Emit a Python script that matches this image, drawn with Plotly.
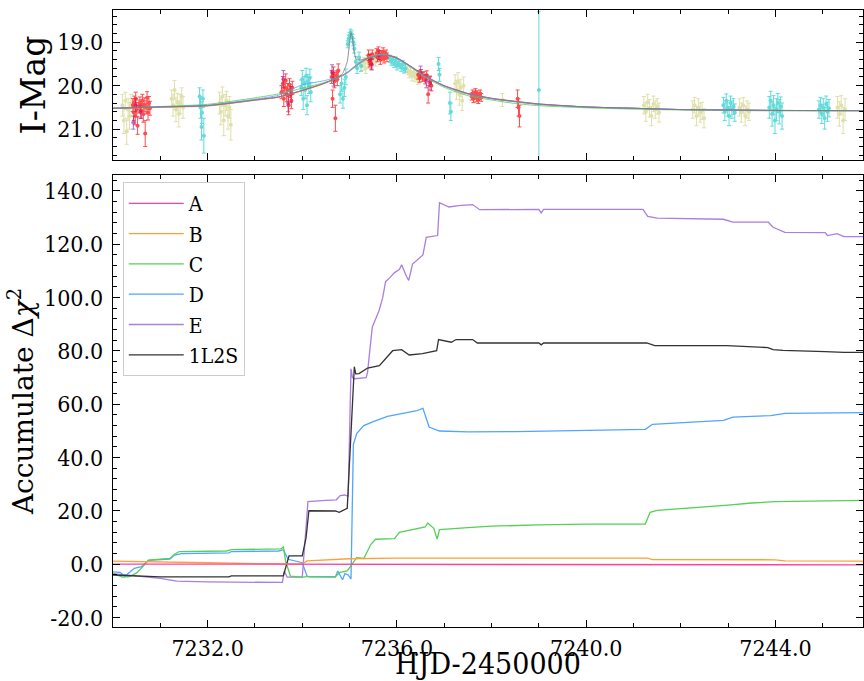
import plotly.graph_objects as go

# ---------------- top panel: photometry (HJD-2450000, I mag, error) ----------------
RED_T = [7230.42, 7230.44, 7230.45, 7230.47, 7230.48, 7230.50, 7230.52, 7230.55, 7230.57, 7230.60,
         7230.62, 7230.64, 7230.66, 7230.68, 7230.70, 7230.72, 7230.74, 7230.76, 7230.78,
         7233.56, 7233.59, 7233.61, 7233.63, 7233.65, 7233.67, 7233.69, 7233.71, 7233.73, 7233.75, 7233.77, 7233.79,
         7234.62, 7234.64, 7234.66, 7234.68, 7234.70, 7234.72, 7234.74, 7234.76,
         7235.40, 7235.42, 7235.44, 7235.46, 7235.48, 7235.57, 7235.59, 7235.61, 7235.63, 7235.65, 7235.67,
         7235.69, 7235.71, 7235.73, 7235.75, 7235.77, 7235.79,
         7236.45, 7236.48, 7236.51, 7236.54, 7236.57, 7236.60, 7236.63, 7236.66, 7236.70, 7236.73,
         7237.58, 7237.60, 7237.62, 7237.64, 7237.66, 7237.68, 7237.70, 7237.72, 7237.74, 7237.76, 7237.78,
         7238.55, 7238.57, 7238.59]
RED_M = [20.45, 20.62, 20.38, 20.70, 20.30, 20.55, 20.92, 20.48, 20.40, 20.58,
         20.35, 20.66, 20.44, 21.10, 20.50, 20.28, 20.62, 20.40, 20.52,
         20.15, 19.95, 20.30, 20.05, 19.88, 20.20, 20.10, 20.45, 19.98, 20.12, 20.35, 20.05,
         19.80, 20.30, 19.72, 19.90, 20.75, 19.78, 19.85, 19.65,
         19.30, 19.45, 19.38, 19.50, 19.28, 19.25, 19.35, 19.20, 19.30, 19.40, 19.28,
         19.33, 19.22, 19.38, 19.30, 19.27, 19.35,
         19.75, 19.82, 19.72, 19.80, 19.78, 19.85, 19.76, 20.20, 19.90, 20.00,
         20.25, 20.18, 20.30, 20.22, 20.15, 20.28, 20.20, 20.32, 20.24, 20.18, 20.27,
         20.30, 20.50, 20.70]
RED_E = [0.15, 0.18, 0.14, 0.20, 0.15, 0.16, 0.20, 0.15, 0.14, 0.17,
         0.15, 0.18, 0.16, 0.30, 0.15, 0.14, 0.17, 0.15, 0.16,
         0.15, 0.16, 0.18, 0.14, 0.15, 0.17, 0.15, 0.22, 0.14, 0.15, 0.18, 0.15,
         0.15, 0.20, 0.15, 0.15, 0.30, 0.12, 0.15, 0.15,
         0.12, 0.12, 0.10, 0.12, 0.10, 0.10, 0.10, 0.09, 0.10, 0.11, 0.09,
         0.10, 0.09, 0.10, 0.09, 0.09, 0.10,
         0.10, 0.10, 0.09, 0.10, 0.10, 0.11, 0.10, 0.20, 0.12, 0.12,
         0.08, 0.08, 0.09, 0.08, 0.08, 0.09, 0.08, 0.09, 0.08, 0.08, 0.09,
         0.20, 0.20, 0.25]

PURPLE_T = [7230.43, 7230.48, 7230.58, 7233.60, 7233.70, 7233.76, 7234.63, 7234.66,
            7235.43, 7235.47, 7235.62, 7236.50, 7236.62, 7236.70]
PURPLE_M = [20.85, 20.45, 20.60, 19.85, 20.40, 20.20, 19.70, 19.85,
            19.40, 19.52, 19.30, 19.70, 19.90, 19.95]
PURPLE_E = [0.15, 0.15, 0.15, 0.20, 0.20, 0.18, 0.18, 0.16,
            0.12, 0.12, 0.10, 0.15, 0.15, 0.15]

CYAN_T = [7231.83, 7231.85, 7231.87, 7231.88, 7231.90, 7231.92,
          7233.98, 7234.00, 7234.02, 7234.04, 7234.06, 7234.08, 7234.10, 7234.12, 7234.14, 7234.16, 7234.18,
          7234.80, 7234.83, 7234.86, 7234.89, 7234.92,
          7234.96, 7234.98, 7235.00, 7235.02, 7235.04, 7235.06, 7235.08, 7235.10,
          7235.13, 7235.16, 7235.20, 7235.24,
          7235.85, 7235.88, 7235.91, 7235.94, 7235.97, 7236.00, 7236.03, 7236.06, 7236.09, 7236.12, 7236.15, 7236.18,
          7236.88, 7236.90, 7237.12, 7237.14,
          7239.00,
          7242.90, 7242.93, 7242.96, 7242.99, 7243.02, 7243.05, 7243.08, 7243.11, 7243.14,
          7243.87, 7243.90, 7243.93, 7243.96, 7243.99, 7244.02, 7244.05, 7244.08, 7244.11, 7244.14,
          7244.92, 7244.95, 7244.98, 7245.01, 7245.04, 7245.07, 7245.10, 7245.13]
CYAN_M = [20.25, 20.50, 20.95, 20.62, 20.30, 21.15,
          20.05, 19.85, 20.30, 19.95, 20.10, 19.78, 20.45, 19.90, 20.00, 19.82, 20.15,
          20.20, 19.95, 20.30, 20.05, 19.80,
          19.05, 18.92, 18.85, 18.78, 18.82, 18.90, 19.00, 19.15,
          19.45, 19.60, 19.35, 19.55,
          19.38, 19.45, 19.40, 19.50, 19.42, 19.55, 19.48, 19.52, 19.58, 19.50, 19.62, 19.60,
          19.50, 19.75, 20.40, 20.60,
          20.10,
          20.45, 20.60, 20.35, 20.52, 20.70, 20.40, 20.55, 20.48, 20.62,
          20.50, 20.35, 20.65, 20.45, 20.80, 20.55, 20.40, 20.60, 20.48, 20.70,
          20.55, 20.45, 20.65, 20.50, 20.75, 20.42, 20.60, 20.52]
CYAN_E = [0.20, 0.25, 0.30, 0.25, 0.20, 0.40,
          0.18, 0.20, 0.25, 0.16, 0.20, 0.18, 0.22, 0.16, 0.18, 0.20, 0.22,
          0.20, 0.18, 0.22, 0.20, 0.18,
          0.08, 0.08, 0.07, 0.08, 0.08, 0.08, 0.08, 0.10,
          0.12, 0.12, 0.12, 0.12,
          0.08, 0.08, 0.07, 0.08, 0.08, 0.09, 0.08, 0.08, 0.09, 0.08, 0.09, 0.09,
          0.15, 0.15, 0.25, 0.20,
          1.80,
          0.18, 0.20, 0.16, 0.18, 0.22, 0.16, 0.20, 0.18, 0.20,
          0.25, 0.22, 0.28, 0.22, 0.30, 0.25, 0.22, 0.28, 0.22, 0.30,
          0.20, 0.18, 0.22, 0.20, 0.25, 0.18, 0.22, 0.20]

KHAKI_T = [7230.20, 7230.23, 7230.26, 7230.29, 7230.32, 7230.35, 7230.38,
           7231.24, 7231.27, 7231.30, 7231.33, 7231.36, 7231.39, 7231.42, 7231.45, 7231.48,
           7232.25, 7232.28, 7232.31, 7232.34, 7232.37, 7232.40, 7232.43, 7232.46, 7232.49,
           7235.28, 7235.31, 7235.34, 7235.37, 7235.40, 7235.43, 7235.46, 7235.49, 7235.52, 7235.55,
           7236.23, 7236.26, 7236.29, 7236.32, 7236.35, 7236.38, 7236.41, 7236.44, 7236.47,
           7237.23, 7237.26, 7237.29, 7237.32, 7237.35, 7237.38, 7237.41,
           7238.23,
           7241.22, 7241.26, 7241.30, 7241.34, 7241.38, 7241.42, 7241.46, 7241.50, 7241.54,
           7242.25, 7242.29, 7242.33, 7242.37, 7242.41, 7242.45, 7242.49,
           7243.24, 7243.28, 7243.32, 7243.36, 7243.40, 7243.44,
           7245.31, 7245.35, 7245.39, 7245.43, 7245.47]
KHAKI_M = [20.45, 20.80, 20.35, 21.05, 20.55, 20.70, 20.40,
           20.30, 20.45, 20.10, 20.55, 20.38, 20.65, 20.42, 20.25, 20.50,
           20.40, 20.60, 20.25, 20.80, 20.45, 20.35, 20.70, 20.50, 20.90,
           19.55, 19.45, 19.60, 19.40, 19.50, 19.35, 19.48, 19.42, 19.38, 19.45,
           19.65, 19.72, 19.68, 19.78, 19.70, 19.80, 19.75, 19.85, 19.82,
           19.95, 20.10, 19.90, 20.20, 20.05, 20.35, 20.00,
           20.33,
           20.45, 20.60, 20.38, 20.52, 20.70, 20.42, 20.55, 20.48, 20.62,
           20.55, 20.45, 20.70, 20.50, 20.62, 20.58, 20.75,
           20.50, 20.62, 20.45, 20.70, 20.55, 20.60,
           20.50, 20.65, 20.45, 20.80, 20.55]
KHAKI_E = [0.25, 0.30, 0.20, 0.30, 0.25, 0.30, 0.20,
           0.20, 0.25, 0.22, 0.28, 0.20, 0.30, 0.22, 0.20, 0.25,
           0.25, 0.30, 0.22, 0.35, 0.25, 0.22, 0.30, 0.25, 0.35,
           0.10, 0.10, 0.12, 0.10, 0.10, 0.10, 0.11, 0.10, 0.10, 0.10,
           0.10, 0.10, 0.10, 0.11, 0.10, 0.11, 0.10, 0.12, 0.11,
           0.20, 0.22, 0.20, 0.25, 0.20, 0.22, 0.20,
           0.15,
           0.20, 0.22, 0.18, 0.20, 0.22, 0.18, 0.20, 0.18, 0.22,
           0.20, 0.18, 0.22, 0.20, 0.22, 0.20, 0.22,
           0.20, 0.22, 0.18, 0.22, 0.20, 0.20,
           0.25, 0.28, 0.22, 0.30, 0.25]

# ---------------- top panel: model light curves ----------------
MODEL_T = [7230.0, 7231.0, 7232.0, 7233.0, 7233.5, 7234.0, 7234.4, 7234.7, 7234.85, 7234.95,
           7235.0, 7235.03, 7235.06, 7235.1, 7235.15, 7235.25, 7235.4, 7235.6, 7235.8, 7236.0,
           7236.3, 7236.6, 7237.0, 7237.5, 7238.0, 7238.5, 7239.0, 7240.0, 7241.0, 7242.0,
           7243.0, 7244.0, 7245.85]
MAG_A = [20.52, 20.49, 20.46, 20.33, 20.26, 20.11, 19.97, 19.84, 19.76, 19.70,
         19.66, 19.64, 19.61, 19.58, 19.54, 19.46, 19.36, 19.29, 19.29, 19.36,
         19.56, 19.78, 20.00, 20.18, 20.29, 20.36, 20.42, 20.49, 20.52, 20.55,
         20.56, 20.57, 20.575]
MAG_B = [20.53, 20.50, 20.47, 20.34, 20.27, 20.12, 19.98, 19.85, 19.77, 19.71,
         19.67, 19.64, 19.61, 19.57, 19.52, 19.44, 19.34, 19.28, 19.29, 19.37,
         19.57, 19.79, 20.01, 20.19, 20.30, 20.37, 20.43, 20.49, 20.52, 20.55,
         20.56, 20.57, 20.575]
MAG_C = [20.52, 20.48, 20.43, 20.28, 20.19, 20.06, 19.95, 19.84, 19.77, 19.71,
         19.67, 19.65, 19.62, 19.59, 19.55, 19.47, 19.37, 19.30, 19.31, 19.38,
         19.58, 19.81, 20.04, 20.23, 20.33, 20.41, 20.46, 20.51, 20.54, 20.56,
         20.57, 20.58, 20.58]
MAG_D = [20.52, 20.49, 20.45, 20.31, 20.22, 19.98, 19.90, 19.82, 19.76, 19.70,
         19.66, 19.63, 19.60, 19.57, 19.53, 19.45, 19.35, 19.29, 19.30, 19.37,
         19.57, 19.79, 20.01, 20.19, 20.30, 20.37, 20.43, 20.49, 20.52, 20.55,
         20.56, 20.57, 20.575]
MAG_E = [20.52, 20.49, 20.46, 20.33, 20.26, 20.11, 19.97, 19.84, 19.76, 19.69,
         19.65, 19.62, 19.59, 19.56, 19.52, 19.45, 19.36, 19.30, 19.30, 19.37,
         19.57, 19.79, 20.01, 20.19, 20.30, 20.37, 20.43, 20.49, 20.52, 20.55,
         20.56, 20.57, 20.575]
MAG_1L2S = [20.52, 20.49, 20.46, 20.33, 20.26, 20.11, 19.97, 19.84, 19.72, 19.45,
            19.00, 18.78, 18.90, 19.25, 19.40, 19.40, 19.37, 19.31, 19.30, 19.36,
            19.56, 19.78, 20.00, 20.18, 20.29, 20.36, 20.42, 20.49, 20.52, 20.55,
            20.56, 20.57, 20.575]

# ---------------- bottom panel: accumulated delta chi^2 ----------------
A_T = [7230.0, 7233.6, 7234.1, 7235.1, 7245.85]
A_V = [0.1, 0.0, 0.2, 0.0, -0.2]

B_T = [7230.0, 7231.0, 7232.0, 7233.0, 7234.0, 7234.1, 7234.9, 7235.0, 7236.0, 7238.0,
       7241.3, 7241.4, 7244.0, 7244.2, 7245.85]
B_V = [1.2, 1.0, 0.6, 0.3, 0.2, 1.3, 1.8, 2.1, 2.3, 2.4,
       2.3, 1.8, 1.7, 1.3, 1.2]

C_T = [7230.0, 7230.2, 7230.35, 7230.5, 7230.65, 7230.75, 7231.2, 7231.3, 7231.4, 7232.0,
       7232.4, 7232.5, 7233.0, 7233.55, 7233.6, 7233.65, 7233.75, 7234.0, 7234.1, 7234.7,
       7234.8, 7234.95, 7235.05, 7235.15, 7235.3, 7235.45, 7235.55, 7235.95, 7236.05, 7236.3,
       7236.6, 7236.65, 7236.78, 7236.85, 7236.9, 7237.5, 7238.0, 7239.0, 7240.0, 7241.25,
       7241.35, 7241.5, 7242.0, 7242.5, 7243.0, 7243.5, 7244.0, 7245.85]
C_V = [-3.5, -4.8, -4.6, -3.2, -0.5, 1.6, 2.2, 3.8, 4.8, 5.0,
       5.0, 5.5, 5.6, 5.8, 6.5, 1.0, -4.4, -4.8, -4.6, -4.6,
       -3.0, -2.5, 0.0, 2.5, 2.2, 7.5, 9.4, 9.6, 12.0, 13.0,
       14.0, 15.5, 13.5, 9.5, 13.0, 13.8, 14.3, 14.8, 15.1, 15.1,
       19.5, 20.2, 20.8, 21.5, 22.2, 23.0, 23.5, 24.0]

D_T = [7230.0, 7230.15, 7230.25, 7230.45, 7230.6, 7230.7, 7230.75, 7231.2, 7231.3, 7231.45,
       7232.0, 7232.45, 7232.5, 7233.0, 7233.5, 7233.6, 7233.7, 7234.0, 7234.1, 7234.15,
       7234.7, 7234.75, 7234.85, 7234.9, 7234.97, 7235.03, 7235.08, 7235.15, 7235.3, 7235.5,
       7235.8, 7236.1, 7236.4, 7236.55, 7236.6, 7236.68, 7236.9, 7237.5, 7238.5, 7240.0,
       7241.25, 7241.4, 7242.5, 7242.9, 7243.1, 7243.9, 7244.2, 7245.85]
D_V = [-2.8, -3.0, -4.5, -1.5, -0.9, 0.6, 1.5, 2.0, 3.5, 4.0,
       4.2, 4.3, 4.8, 4.9, 5.0, 5.5, 1.9, 0.6, -4.4, -4.7,
       -4.8, -2.5, -5.8, -3.5, -4.0, -5.5, 45.0, 49.0, 52.0, 53.5,
       55.5, 56.5, 57.5, 58.5, 56.0, 51.5, 50.0, 49.7, 49.8, 50.2,
       50.6, 52.5, 53.5, 54.0, 55.2, 55.8, 56.6, 56.9]

E_T = [7230.0, 7230.3, 7230.6, 7231.0, 7231.25, 7231.35, 7232.0, 7233.0, 7233.58, 7233.62,
       7233.68, 7234.0, 7234.06, 7234.12, 7234.5, 7234.72, 7234.8, 7234.9, 7234.97, 7235.03,
       7235.06, 7235.1, 7235.35, 7235.38, 7235.42, 7235.48, 7235.55, 7235.62, 7235.7, 7235.76,
       7235.85, 7235.95, 7236.05, 7236.1, 7236.2, 7236.25, 7236.33, 7236.45, 7236.55, 7236.62,
       7236.75, 7236.86, 7236.9, 7237.1, 7237.3, 7237.6, 7237.75, 7238.5, 7239.0, 7239.05,
       7239.1, 7241.2, 7241.3, 7241.5, 7242.4, 7242.9, 7243.1, 7243.85, 7243.95, 7244.2,
       7245.05, 7245.1, 7245.3, 7245.45, 7245.85]
E_V = [-3.5, -4.0, -4.6, -5.3, -6.0, -6.3, -6.6, -6.8, -6.8, -2.5,
       -4.8, -4.8, 10.0, 23.5, 24.0, 24.2, 25.8, 26.0, 25.5, 73.3,
       70.0, 69.6, 70.0, 72.0, 79.0, 89.0, 92.0, 95.0, 100.0, 106.0,
       107.5, 109.4, 110.5, 112.3, 108.0, 106.5, 112.6, 114.5, 116.0, 122.6,
       123.0, 123.3, 135.6, 134.0, 134.5, 134.9, 133.0, 133.2, 133.1, 131.8,
       133.1, 133.1, 130.5, 129.8, 129.6, 129.4, 128.3, 128.3, 126.4, 124.5,
       124.4, 123.3, 124.0, 122.9, 122.9]

L2S_T = [7230.0, 7230.6, 7231.0, 7232.45, 7232.5, 7233.6, 7233.72, 7234.0, 7234.08, 7234.14,
         7234.7, 7234.78, 7234.85, 7234.95, 7235.1, 7235.13, 7235.2, 7235.38, 7235.63, 7235.75,
         7235.91, 7236.1, 7236.26, 7236.54, 7236.84, 7236.88, 7237.15, 7237.25, 7237.6, 7237.7,
         7239.0, 7239.05, 7239.1, 7241.28, 7241.45, 7242.97, 7243.84, 7243.95, 7244.16, 7245.05,
         7245.45, 7245.85]
L2S_V = [-4.0, -4.4, -4.7, -4.7, -4.3, -4.3, 3.2, 3.2, 10.0, 20.1,
         20.0, 19.5, 20.0, 21.0, 74.1, 71.4, 71.5, 73.6, 74.5, 77.0,
         80.1, 80.5, 78.5, 79.0, 80.1, 84.3, 83.3, 84.3, 84.3, 83.0,
         83.0, 82.3, 83.0, 83.0, 82.0, 82.0, 81.3, 80.5, 80.2, 79.8,
         79.5, 79.5]

SERIES_NAMES = ["A", "B", "C", "D", "E", "1L2S"]
SERIES_COLORS = ["#ff3fa4", "#ffa033", "#55d055", "#4fa5ff", "#a97fdf", "#333333"]

X_TICKS = [7232.0, 7236.0, 7240.0, 7244.0]
X_TICKTEXT = ["7232.0", "7236.0", "7240.0", "7244.0"]
MAG_TICKS = [19.0, 20.0, 21.0]
MAG_TICKTEXT = ["19.0", "20.0", "21.0"]
CHI_TICKS = [-20, 0, 20, 40, 60, 80, 100, 120, 140]
CHI_TICKTEXT = ["-20.0", "0.0", "20.0", "40.0", "60.0", "80.0", "100.0", "120.0", "140.0"]

for a, b in [(RED_T, RED_M), (RED_T, RED_E), (PURPLE_T, PURPLE_M), (PURPLE_T, PURPLE_E),
             (CYAN_T, CYAN_M), (CYAN_T, CYAN_E), (KHAKI_T, KHAKI_M), (KHAKI_T, KHAKI_E),
             (MODEL_T, MAG_A), (MODEL_T, MAG_B), (MODEL_T, MAG_C), (MODEL_T, MAG_D), (MODEL_T, MAG_E),
             (MODEL_T, MAG_1L2S), (A_T, A_V), (B_T, B_V), (C_T, C_V), (D_T, D_V), (E_T, E_V), (L2S_T, L2S_V)]:
    assert len(a) == len(b), (len(a), len(b))

FONT = "DejaVu Serif Condensed, DejaVu Serif, serif"
FONT_ROT = "DejaVu Serif, serif"
fig = go.Figure()


def phot(t, m, e, color, op):
    return go.Scatter(x=t, y=m, mode="markers", xaxis="x", yaxis="y", showlegend=False,
                      marker=dict(size=4, color=color),
                      error_y=dict(type="data", array=e, color=color, thickness=1, width=2),
                      opacity=op, hoverinfo="skip")


fig.add_trace(phot(KHAKI_T, KHAKI_M, KHAKI_E, "#c2c25a", 0.5))
fig.add_trace(phot(PURPLE_T, PURPLE_M, PURPLE_E, "#8a2be2", 0.7))
fig.add_trace(phot(RED_T, RED_M, RED_E, "#ff0000", 0.7))
fig.add_trace(phot(CYAN_T, CYAN_M, CYAN_E, "#10c8c8", 0.65))

model_mags = [MAG_A, MAG_B, MAG_C, MAG_D, MAG_E, MAG_1L2S]
model_cols = SERIES_COLORS[:5] + ["#777777"]
for mags, col in zip(model_mags, model_cols):
    fig.add_trace(go.Scatter(x=MODEL_T, y=mags, mode="lines",
                             line=dict(color=col, width=1, shape="spline", smoothing=0.6),
                             opacity=0.8, xaxis="x", yaxis="y", showlegend=False, hoverinfo="skip"))

chi_t = [A_T, B_T, C_T, D_T, E_T, L2S_T]
chi_v = [A_V, B_V, C_V, D_V, E_V, L2S_V]
draw_order = [4, 3, 2, 5, 1, 0]
for i in draw_order:
    fig.add_trace(go.Scatter(x=chi_t[i], y=chi_v[i], mode="lines", name=SERIES_NAMES[i],
                             line=dict(color=SERIES_COLORS[i], width=1.3),
                             xaxis="x2", yaxis="y2", legendrank=i + 1, legendgroup=SERIES_NAMES[i]))

tickfont = dict(family=FONT, size=23, color="black")
XR = [7230.0, 7245.85]
common_x = dict(range=XR, tickmode="array", tickvals=X_TICKS, ticktext=X_TICKTEXT,
                ticks="inside", ticklen=7, tickwidth=1.3, tickcolor="black",
                minor=dict(tickmode="linear", tick0=7230, dtick=1, ticks="inside", ticklen=4,
                           tickwidth=1, tickcolor="black"),
                showline=True, linecolor="black", linewidth=1.3, mirror="allticks",
                showgrid=False, zeroline=False, tickfont=tickfont, automargin=False)

fig.update_layout(
    width=864, height=681,
    margin=dict(l=113, r=1, t=10, b=54, autoexpand=False),
    paper_bgcolor="white", plot_bgcolor="white",
    font=dict(family=FONT, color="black"),
    xaxis=dict(common_x, domain=[0, 1], anchor="y", showticklabels=False),
    yaxis=dict(domain=[0.7569, 1.0], anchor="x", range=[21.71, 18.26],
               tickmode="array", tickvals=MAG_TICKS, ticktext=MAG_TICKTEXT,
               ticks="inside", ticklen=7, tickwidth=1.3, tickcolor="black",
               minor=dict(tickmode="linear", tick0=19, dtick=0.2, ticks="inside", ticklen=4,
                          tickwidth=1, tickcolor="black"),
               showline=True, linecolor="black", linewidth=1.3, mirror="allticks",
               showgrid=False, zeroline=False, tickfont=tickfont, ticklabelstandoff=4, automargin=False,
               title=dict(text="I-Mag", font=dict(family=FONT_ROT, size=33, color="black"), standoff=1)),
    xaxis2=dict(common_x, domain=[0, 1], anchor="y2", ticklabelstandoff=0,
                title=dict(text="HJD-2450000", font=dict(family=FONT, size=30, color="black"), standoff=3)),
    yaxis2=dict(domain=[0, 0.7326], anchor="x2", range=[-23.5, 146.0],
                tickmode="array", tickvals=CHI_TICKS, ticktext=CHI_TICKTEXT,
                ticks="inside", ticklen=7, tickwidth=1.3, tickcolor="black",
                minor=dict(tickmode="linear", tick0=0, dtick=4, ticks="inside", ticklen=4,
                           tickwidth=1, tickcolor="black"),
                showline=True, linecolor="black", linewidth=1.3, mirror="allticks",
                showgrid=False, zeroline=False, tickfont=tickfont, ticklabelstandoff=4, automargin=False,
                title=dict(text="Accumulate Δ<i>χ</i><sup>2</sup>",
                           font=dict(family=FONT_ROT, size=28, color="black"), standoff=2)),
    legend=dict(x=0.013, y=0.721, xanchor="left", yanchor="top",
                bgcolor="rgba(255,255,255,0.85)", bordercolor="#cccccc", borderwidth=1,
                font=dict(family=FONT, size=21, color="black"), tracegroupgap=0,
                itemwidth=55, traceorder="normal"),
)

fig.write_html("out.html")
